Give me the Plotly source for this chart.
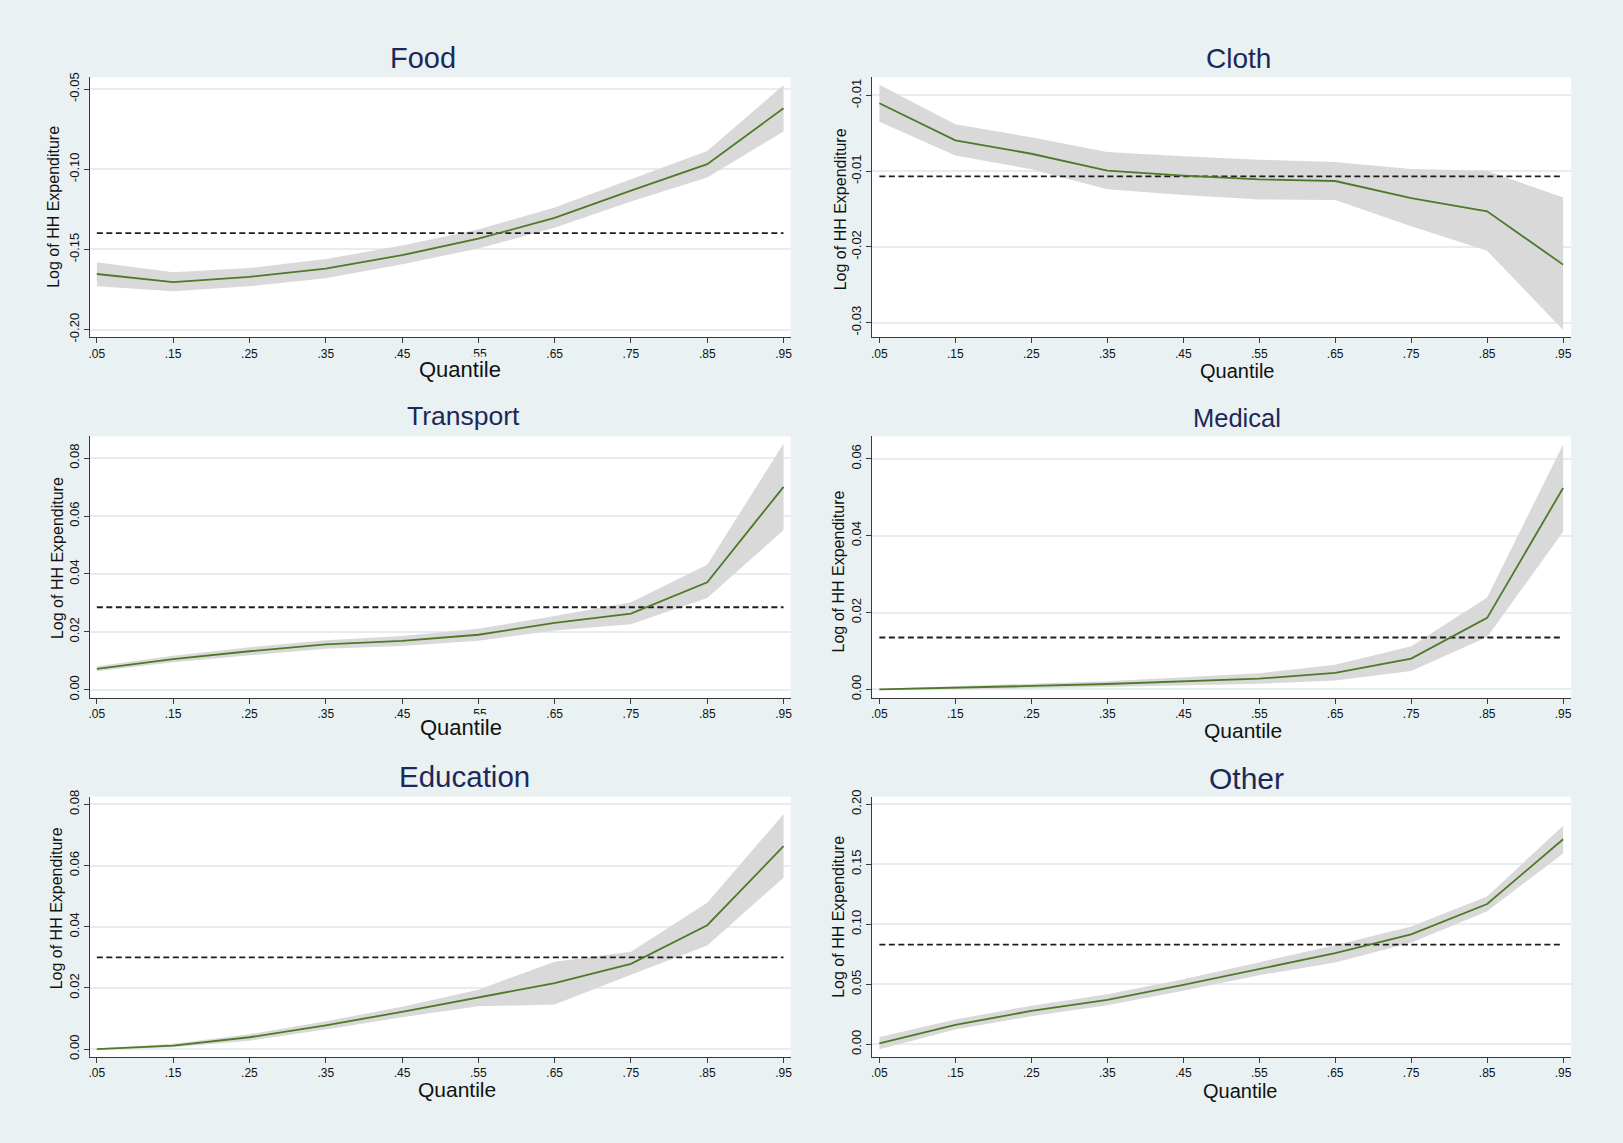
import plotly.graph_objects as go

# ---------------------------------------------------------------------------
# Quantile-regression coefficients on log household expenditure, by category
# (point estimate, upper and lower confidence bounds, and the OLS estimate)
# ---------------------------------------------------------------------------
quantiles = [0.05, 0.15, 0.25, 0.35, 0.45, 0.55, 0.65, 0.75, 0.85, 0.95]
quantile_labels = [".05", ".15", ".25", ".35", ".45", ".55", ".65", ".75", ".85", ".95"]

food_coef = [-0.1653, -0.1704, -0.1671, -0.1620, -0.1536, -0.1433, -0.1303, -0.1133, -0.0968, -0.0619]
food_upper = [-0.1580, -0.1642, -0.1616, -0.1560, -0.1476, -0.1375, -0.1238, -0.1061, -0.0886, -0.0475]
food_lower = [-0.1730, -0.1760, -0.1730, -0.1680, -0.1593, -0.1494, -0.1365, -0.1201, -0.1051, -0.0765]
food_ols = -0.1398

cloth_coef = [-0.01052, -0.01296, -0.01385, -0.01496, -0.01530, -0.01554, -0.01565, -0.01678, -0.01765, -0.02117]
cloth_upper = [-0.00930, -0.01191, -0.01276, -0.01374, -0.01402, -0.01424, -0.01439, -0.01485, -0.01498, -0.01674]
cloth_lower = [-0.01174, -0.01396, -0.01487, -0.01620, -0.01657, -0.01687, -0.01691, -0.01863, -0.02026, -0.02548]
cloth_ols = -0.01535

transport_coef = [0.0072, 0.0106, 0.0133, 0.0157, 0.0169, 0.0190, 0.0231, 0.0263, 0.0371, 0.0701]
transport_upper = [0.0081, 0.0117, 0.0147, 0.0171, 0.0186, 0.0211, 0.0255, 0.0302, 0.0432, 0.0850]
transport_lower = [0.0064, 0.0095, 0.0118, 0.0142, 0.0151, 0.0169, 0.0205, 0.0226, 0.0317, 0.0551]
transport_ols = 0.0285

medical_coef = [0.0000, 0.0004, 0.0009, 0.0014, 0.0021, 0.0028, 0.0043, 0.0080, 0.0186, 0.0524]
medical_upper = [0.0002, 0.0009, 0.0015, 0.0021, 0.0031, 0.0042, 0.0064, 0.0112, 0.0239, 0.0637]
medical_lower = [-0.0002, 0.0000, 0.0003, 0.0006, 0.0010, 0.0015, 0.0023, 0.0048, 0.0136, 0.0410]
medical_ols = 0.0135

education_coef = [0.0000, 0.0012, 0.0039, 0.0078, 0.0122, 0.0169, 0.0216, 0.0279, 0.0405, 0.0663]
education_upper = [0.0002, 0.0018, 0.0049, 0.0091, 0.0139, 0.0194, 0.0286, 0.0318, 0.0478, 0.0768]
education_lower = [-0.0002, 0.0006, 0.0028, 0.0064, 0.0104, 0.0140, 0.0146, 0.0243, 0.0339, 0.0560]
education_ols = 0.0300

other_coef = [0.0008, 0.0162, 0.0278, 0.0371, 0.0495, 0.0627, 0.0759, 0.0916, 0.1169, 0.1708]
other_upper = [0.0060, 0.0206, 0.0322, 0.0418, 0.0542, 0.0682, 0.0825, 0.0982, 0.1232, 0.1821]
other_lower = [-0.0041, 0.0124, 0.0234, 0.0325, 0.0446, 0.0575, 0.0682, 0.0845, 0.1109, 0.1590]
other_ols = 0.0831

food_ticks = [-0.20, -0.15, -0.10, -0.05]
food_ticktext = ["-0.20", "-0.15", "-0.10", "-0.05"]
cloth_ticks = [-0.025, -0.020, -0.015, -0.010]
cloth_ticktext = ["-0.03", "-0.02", "-0.01", "-0.01"]
transport_ticks = [0.00, 0.02, 0.04, 0.06, 0.08]
transport_ticktext = ["0.00", "0.02", "0.04", "0.06", "0.08"]
medical_ticks = [0.00, 0.02, 0.04, 0.06]
medical_ticktext = ["0.00", "0.02", "0.04", "0.06"]
education_ticks = [0.00, 0.02, 0.04, 0.06, 0.08]
education_ticktext = ["0.00", "0.02", "0.04", "0.06", "0.08"]
other_ticks = [0.00, 0.05, 0.10, 0.15, 0.20]
other_ticktext = ["0.00", "0.05", "0.10", "0.15", "0.20"]

panel_titles = ["Food", "Cloth", "Transport", "Medical", "Education", "Other"]

# ---------------------------------------------------------------------------
# Page geometry (pixels)
# ---------------------------------------------------------------------------
W, H = 1623, 1143
BG = "#e9f1f3"
NAVY = "#1c2857"
GREEN = "#4e7a27"
BAND = "#d9d9d9"
AXIS = "#3a3a3a"
FONT = "Liberation Sans, Arial, sans-serif"


def fx(px):
    return px / W


def fy(py):
    return 1 - py / H


col_px = [(89, 791), (872.5, 1573)]
row_px = [(71, 334), (434, 698), (798, 1061)]
x_ranges = [(0.04084, 0.95916), (0.04015, 0.96051)]

panels = [
    dict(coef=food_coef, up=food_upper, lo=food_lower, ols=food_ols,
         ticks=food_ticks, ticktext=food_ticktext, yrange=(-0.2049, -0.0426)),
    dict(coef=cloth_coef, up=cloth_upper, lo=cloth_lower, ols=cloth_ols,
         ticks=cloth_ticks, ticktext=cloth_ticktext, yrange=(-0.02598, -0.0088)),
    dict(coef=transport_coef, up=transport_upper, lo=transport_lower, ols=transport_ols,
         ticks=transport_ticks, ticktext=transport_ticktext, yrange=(-0.00274, 0.0875)),
    dict(coef=medical_coef, up=medical_upper, lo=medical_lower, ols=medical_ols,
         ticks=medical_ticks, ticktext=medical_ticktext, yrange=(-0.00215, 0.0658)),
    dict(coef=education_coef, up=education_upper, lo=education_lower, ols=education_ols,
         ticks=education_ticks, ticktext=education_ticktext, yrange=(-0.0025, 0.0825)),
    dict(coef=other_coef, up=other_upper, lo=other_lower, ols=other_ols,
         ticks=other_ticks, ticktext=other_ticktext, yrange=(-0.01045, 0.2063)),
]

# label placement and sizes per panel
title_pos = [(423, 52), (1240, 52), (463, 413), (1238, 415), (464, 778), (1248, 780)]
title_size = [29, 28, 26.5, 25.5, 29.5, 30]
xlabel_pos = [(460, 366), (1239, 368), (461, 728), (1244, 731), (457, 1094), (1242, 1095)]
xlabel_size = [22, 20, 22, 21, 21, 20]
xlabel_boxed = [True, False, True, False, False, False]
ylabel_pos = [(53, 202), (841, 204), (56, 557), (839, 570), (56, 911), (839, 919)]

fig = go.Figure()
layout = {}
annotations = []

for i, p in enumerate(panels):
    n = i + 1
    xa = "x" if n == 1 else f"x{n}"
    ya = "y" if n == 1 else f"y{n}"
    col = i % 2
    row = i // 2

    # confidence band
    fig.add_trace(go.Scatter(
        x=quantiles + quantiles[::-1],
        y=p["up"] + p["lo"][::-1],
        fill="toself", fillcolor=BAND, line=dict(width=0),
        mode="lines", hoverinfo="skip", showlegend=False,
        xaxis=xa, yaxis=ya,
    ))
    # OLS estimate
    fig.add_trace(go.Scatter(
        x=[quantiles[0], quantiles[-1]], y=[p["ols"], p["ols"]],
        mode="lines", line=dict(color="#1e1e1e", width=1.8, dash="6px,3.5px"),
        showlegend=False, xaxis=xa, yaxis=ya,
    ))
    # quantile estimates
    fig.add_trace(go.Scatter(
        x=quantiles, y=p["coef"], mode="lines",
        line=dict(color=GREEN, width=1.8),
        showlegend=False, xaxis=xa, yaxis=ya,
    ))

    x0, x1 = col_px[col]
    y0, y1 = row_px[row]
    xkey = "xaxis" if n == 1 else f"xaxis{n}"
    ykey = "yaxis" if n == 1 else f"yaxis{n}"
    layout[xkey] = dict(
        domain=[fx(x0), fx(x1)], range=list(x_ranges[col]), anchor=ya,
        tickvals=quantiles, ticktext=quantile_labels,
        showgrid=False, zeroline=False,
        showline=True, linecolor=AXIS, linewidth=1,
        ticks="outside", ticklen=5, tickcolor=AXIS, tickwidth=1,
        tickfont=dict(family=FONT, size=12, color="#111111"),
    )
    layout[ykey] = dict(
        domain=[fy(y1), fy(y0)], range=list(p["yrange"]), anchor=xa,
        tickvals=p["ticks"], ticktext=p["ticktext"], tickangle=-90,
        showgrid=True, gridcolor="#e4eef0", gridwidth=1.5, zeroline=False,
        showline=True, linecolor=AXIS, linewidth=1,
        ticks="outside", ticklen=5, tickcolor=AXIS, tickwidth=1,
        tickfont=dict(family=FONT, size=13, color="#111111"),
    )

    tx, ty = title_pos[i]
    annotations.append(dict(
        text=panel_titles[i], x=fx(tx), y=fy(ty), xref="paper", yref="paper",
        xanchor="center", yanchor="middle", showarrow=False,
        font=dict(family=FONT, size=title_size[i], color=NAVY),
    ))
    qx, qy = xlabel_pos[i]
    qa = dict(
        text="Quantile", x=fx(qx), y=fy(qy), xref="paper", yref="paper",
        xanchor="center", yanchor="middle", showarrow=False,
        font=dict(family=FONT, size=xlabel_size[i], color="#111111"),
    )
    if xlabel_boxed[i]:
        qa.update(bgcolor=BG, borderpad=0)
    annotations.append(qa)
    lx, ly = ylabel_pos[i]
    annotations.append(dict(
        text="Log of HH Expenditure", x=fx(lx), y=fy(ly), xref="paper", yref="paper",
        xanchor="center", yanchor="middle", showarrow=False, textangle=-90,
        font=dict(family=FONT, size=16, color="#111111"),
    ))

fig.update_layout(
    width=W, height=H, autosize=False,
    margin=dict(l=0, r=0, t=0, b=0),
    paper_bgcolor=BG, plot_bgcolor="white",
    annotations=annotations,
    showlegend=False,
    **layout,
)

fig.write_html("out.html")
